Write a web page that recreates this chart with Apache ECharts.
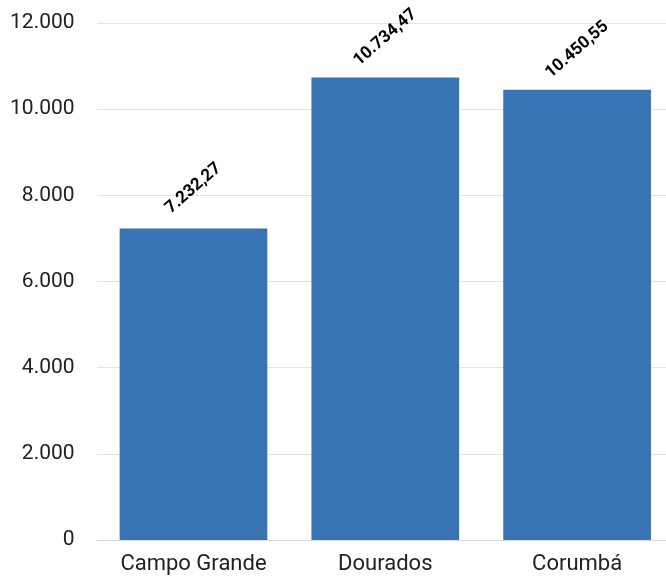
<!DOCTYPE html>
<html><head><meta charset="utf-8">
<script src="https://cdn.jsdelivr.net/npm/echarts@6/dist/echarts.min.js"></script>
<style>html,body{margin:0;padding:0;background:#fff;overflow:hidden}#c{width:673px;height:582px}</style>
</head><body><div id="c"></div>
<script>
const categories = ["Campo Grande", "Dourados", "Corumbá"];
const values = [7232.27, 10734.47, 10450.55];
const yTicks = [0, 2000, 4000, 6000, 8000, 10000, 12000];

function fmtInt(v) { return String(Math.round(v)).replace(/\B(?=(\d{3})+(?!\d))/g, "."); }
function fmtDec(v) {
  const parts = v.toFixed(2).split(".");
  return parts[0].replace(/\B(?=(\d{3})+(?!\d))/g, ".") + "," + parts[1];
}

const chart = echarts.init(document.getElementById('c'), null, {renderer: 'canvas'});
chart.setOption({
  animation: false,
  backgroundColor: '#ffffff',
  grid: {left: 97.6, right: 0, top: 23, bottom: 42, containLabel: false},
  xAxis: {
    type: 'category',
    data: categories,
    axisLine: {show: true, lineStyle: {color: '#d9d9d9', width: 1}},
    axisTick: {show: false},
    axisLabel: {interval: 0, color: '#222', fontSize: 22, fontFamily: 'Roboto, "Liberation Sans", Arial, sans-serif', margin: 13}
  },
  yAxis: {
    type: 'value',
    min: yTicks[0], max: yTicks[yTicks.length - 1], interval: yTicks[1] - yTicks[0],
    axisLine: {show: false},
    axisTick: {show: false},
    splitLine: {lineStyle: {color: '#e3e3e3', width: 1}},
    axisLabel: {color: '#222', fontSize: 21, fontFamily: 'Roboto, "Liberation Sans", Arial, sans-serif', margin: 23, formatter: fmtInt}
  },
  series: [{
    type: 'bar',
    data: values,
    barCategoryGap: '23%',
    itemStyle: {color: '#3873b3'},
    label: {
      show: true,
      position: 'top',
      distance: 40,
      rotate: 41,
      align: 'center',
      verticalAlign: 'middle',
      color: '#000',
      fontWeight: 'bold',
      fontSize: 17,
      fontFamily: 'Roboto, "Liberation Sans", Arial, sans-serif',
      formatter: p => fmtDec(p.value)
    }
  }]
});
</script></body></html>
